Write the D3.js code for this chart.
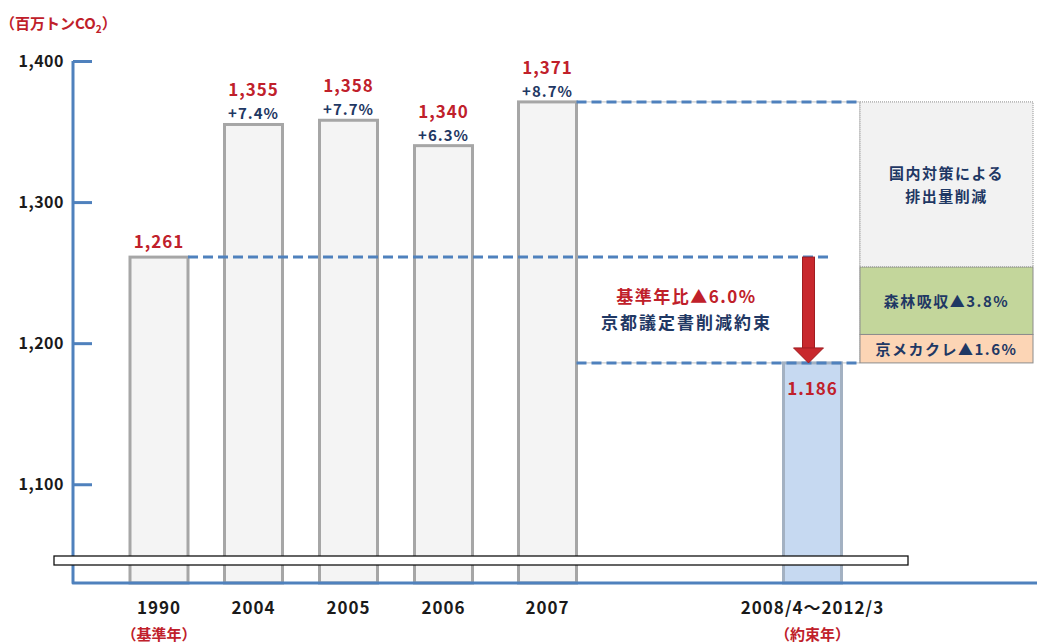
<!DOCTYPE html>
<html><head><meta charset="utf-8">
<script src="https://cdn.jsdelivr.net/npm/d3@7"></script>
<style>
html,body{margin:0;padding:0;background:#fff;}
svg{display:block;}
text{font-family:"Noto Sans CJK JP","Noto Sans",sans-serif;font-weight:700;}
</style></head><body>
<svg id="chart" width="1037" height="643"></svg>
<script>
// ---- data ----
const categories = ["1990","2004","2005","2006","2007","2008/4～2012/3"];
const values = [1261,1355,1358,1340,1371,1186];
const valueLabels = ["1,261","1,355","1,358","1,340","1,371","1.186"];
const changeLabels = ["","+7.4%","+7.7%","+6.3%","+8.7%",""];
const subLabels = ["（基準年）","","","","","（約束年）"];
const yTicks = [1100,1200,1300,1400];
const reductionLabels = ["京メカクレ▲1.6%","森林吸収▲3.8%"];
const reductionPcts = [1.6,3.8];
const domesticLabel = ["国内対策による","排出量削減"];
const targetLabel = ["基準年比▲6.0%","京都議定書削減約束"];

// ---- setup ----
const RED="#c0202a", NAVY="#1f3864", AXIS="#4f81bd";
const svg=d3.select("#chart");
const y=d3.scaleLinear().domain([1030,1400]).range([583,61]);
const x=d3.scaleOrdinal().domain(categories).range([159,253.5,348.5,443.5,547.5,812.5]);
const barW=58;
const baseY=y.range()[0];
const axisX=73;
const last=values.length-1;
const baseValue=values[0], peakValue=values[4], targetValue=values[last];
const boxL=x(categories[4])+barW/2, boxR=860, stackR=1033;
const arrowX=x(categories[last])-4;

// white reference box
svg.append("rect").attr("x",boxL).attr("y",y(peakValue)).attr("width",boxR-boxL)
  .attr("height",y(targetValue)-y(peakValue)).attr("fill","#fff")
  .attr("stroke","#7f7f7f").attr("stroke-width",1).attr("stroke-dasharray","1,1");

// bars
svg.append("g").selectAll("rect").data(values).join("rect")
  .attr("x",(d,i)=>x(categories[i])-barW/2)
  .attr("y",d=>y(d))
  .attr("width",barW)
  .attr("height",d=>baseY-y(d))
  .attr("fill",(d,i)=>i===last?"#c6d9f1":"#f4f4f4")
  .attr("stroke",(d,i)=>i===last?"#a3b1c2":"#a6a6a6")
  .attr("stroke-width",3);

// stacked reduction boxes
const kTop=targetValue+baseValue*reductionPcts[0]/100;
const fTop=kTop+baseValue*reductionPcts[1]/100;
const segs=[
  {lo:targetValue,hi:kTop,fill:"#fcd5b5",lines:[reductionLabels[0]]},
  {lo:kTop,hi:fTop,fill:"#c3d69b",lines:[reductionLabels[1]]},
  {lo:fTop,hi:peakValue,fill:"#f2f2f2",lines:domesticLabel}
];
const sg=svg.append("g");
sg.selectAll("rect").data(segs).join("rect")
  .attr("x",boxR).attr("y",d=>y(d.hi)).attr("width",stackR-boxR)
  .attr("height",d=>y(d.lo)-y(d.hi)).attr("fill",d=>d.fill)
  .attr("stroke","#8c8c8c").attr("stroke-width",1).attr("stroke-dasharray",(d,i)=>i===2?"1,1":null);
segs.forEach(s=>{
  const cy=(y(s.lo)+y(s.hi))/2, n=s.lines.length;
  s.lines.forEach((t,j)=>{
    sg.append("text").attr("x",(boxR+stackR)/2).attr("y",cy+(j-(n-1)/2)*23+6)
      .attr("text-anchor","middle").attr("fill",NAVY).style("font-size","15px")
      .style("letter-spacing","1.5px").text(t);
  });
});

// dashed reference lines
const dashes=[
  {v:baseValue,x1:x(categories[0])+barW/2,x2:arrowX+24},
  {v:peakValue,x1:boxL,x2:boxR},
  {v:targetValue,x1:boxL,x2:boxR}
];
svg.append("g").selectAll("line").data(dashes).join("line")
  .attr("x1",d=>d.x1).attr("x2",d=>d.x2).attr("y1",d=>y(d.v)).attr("y2",d=>y(d.v))
  .attr("stroke",AXIS).attr("stroke-width",3).attr("stroke-dasharray","10,5");

// arrow
const aTop=y(baseValue), aTip=y(targetValue);
svg.append("rect").attr("x",arrowX-6).attr("y",aTop).attr("width",12).attr("height",aTip-aTop-14)
  .attr("fill","#c8282d").attr("stroke","#a01c20").attr("stroke-width",1);
svg.append("path").attr("d",`M${arrowX-15},${aTip-15}L${arrowX+15},${aTip-15}L${arrowX},${aTip}Z`)
  .attr("fill","#c8282d").attr("stroke","#a01c20").attr("stroke-width",1);

// target annotation
const tMid=(y(baseValue)+y(targetValue))/2, tX=(boxL+arrowX-12)/2;
svg.append("text").attr("x",tX).attr("y",tMid-7).attr("text-anchor","middle")
  .attr("fill",RED).style("font-size","17px").style("letter-spacing","1.5px").text(targetLabel[0]);
svg.append("text").attr("x",tX).attr("y",tMid+19).attr("text-anchor","middle")
  .attr("fill",NAVY).style("font-size","17px").style("letter-spacing","2px").text(targetLabel[1]);

// axes
svg.append("path").attr("d",`M${axisX},${y(1400)}V${baseY}H1037`)
  .attr("fill","none").attr("stroke",AXIS).attr("stroke-width",3).attr("stroke-linejoin","round");
const yAxis=d3.axisLeft(y).tickValues(yTicks).tickSizeInner(-19).tickSizeOuter(0).tickPadding(9)
  .tickFormat(d3.format(","));
const ga=svg.append("g").attr("transform",`translate(${axisX},0)`).call(yAxis);
ga.select(".domain").remove();
ga.selectAll(".tick line").attr("stroke",AXIS).attr("stroke-width",3);
ga.selectAll(".tick text").attr("fill","#1a1a1a").style("font-size","16px")
  .style("letter-spacing","0.5px").style("font-family","'Noto Sans CJK JP',sans-serif");

// scale-break strip
svg.append("rect").attr("x",54).attr("y",556).attr("width",854).attr("height",9)
  .attr("fill","#fff").attr("stroke","#111").attr("stroke-width",1.3);

// value labels
const vl=svg.append("g");
values.forEach((v,i)=>{
  const cx=x(categories[i]), top=y(v);
  let vy;
  if(i===last) vy=top+32;
  else if(changeLabels[i]) vy=top-28;
  else vy=top-9;
  vl.append("text").attr("x",cx).attr("y",vy).attr("text-anchor","middle")
    .attr("fill",RED).style("font-size","17px").style("letter-spacing","1px").text(valueLabels[i]);
  if(changeLabels[i]) vl.append("text").attr("x",cx).attr("y",top-5).attr("text-anchor","middle")
    .attr("fill",NAVY).style("font-size","15px").style("letter-spacing","1px").text(changeLabels[i]);
});

// category labels
const cl=svg.append("g");
categories.forEach((c,i)=>{
  cl.append("text").attr("x",x(c)).attr("y",614).attr("text-anchor","middle")
    .attr("fill","#1a1a1a").style("font-size","17px").style("letter-spacing","1px").text(c);
  if(subLabels[i]) cl.append("text").attr("x",x(c)).attr("y",640).attr("text-anchor","middle")
    .attr("fill",RED).style("font-size","15px").text(subLabels[i]);
});

// unit title
const tt=svg.append("text").attr("x",0).attr("y",29).attr("fill",RED).style("font-size","15px");
tt.append("tspan").text("（百万トンCO");
tt.append("tspan").attr("dy",4).style("font-size","10px").text("2");
tt.append("tspan").attr("dy",-4).text("）");
</script>
</body></html>
